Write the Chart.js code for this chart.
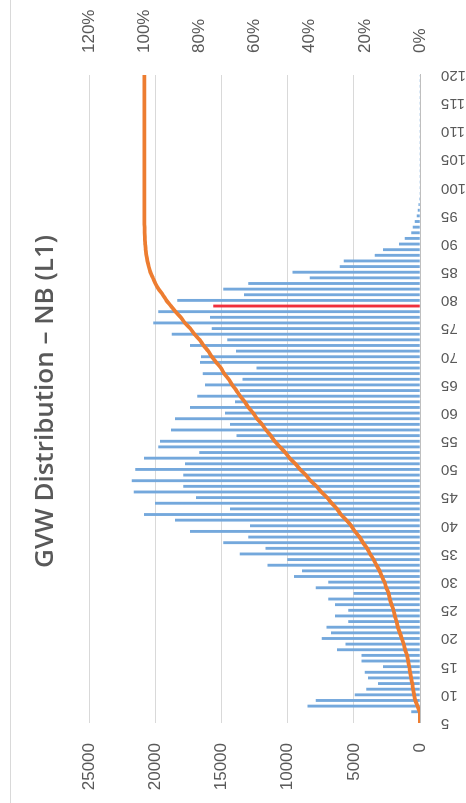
<!DOCTYPE html>
<html lang="en">
<head>
    <meta charset="UTF-8">
    <title>GVW Distribution – NB (L1)</title>
    <style>
        html, body {
            margin: 0;
            padding: 0;
            background: #fff;
            overflow: hidden;
        }

        body {
            width: 466px;
            height: 803px;
            position: relative;
        }

        /* the chart is laid out landscape and turned a quarter left */
        .turned {
            position: absolute;
            left: 0;
            top: 0;
            width: 803px;
            height: 466px;
            transform-origin: 0 0;
            transform: translate(0, 803px) rotate(-90deg);
            background: #fff;
        }

        .frame {
            position: absolute;
            left: 0;
            top: 10px;
            width: 803px;
            height: 1px;
            background: #d9d9d9;
        }

        .chart-box {
            position: absolute;
            left: 0;
            top: 0;
            width: 803px;
            height: 466px;
        }
    </style>
</head>
<body>
    <div class="turned">
        <div class="frame"></div>
        <div class="chart-box">
            <canvas id="gvwChart"></canvas>
        </div>
    </div>

    <script src="https://cdn.jsdelivr.net/npm/chart.js"></script>
    <script>
        // GVW bins (kips)
        const bins = [
            5, 6, 7, 8, 9, 10, 11, 12, 13, 14,
            15, 16, 17, 18, 19, 20, 21, 22, 23, 24,
            25, 26, 27, 28, 29, 30, 31, 32, 33, 34,
            35, 36, 37, 38, 39, 40, 41, 42, 43, 44,
            45, 46, 47, 48, 49, 50, 51, 52, 53, 54,
            55, 56, 57, 58, 59, 60, 61, 62, 63, 64,
            65, 66, 67, 68, 69, 70, 71, 72, 73, 74,
            75, 76, 77, 78, 79, 80, 81, 82, 83, 84,
            85, 86, 87, 88, 89, 90, 91, 92, 93, 94,
            95, 96, 97, 98, 99, 100, 101, 102, 103, 104,
            105, 106, 107, 108, 109, 110, 111, 112, 113, 114,
            115, 116, 117, 118, 119, 120
        ];

        // truck counts per bin
        const gvwCounts = [
            0, 60, 630, 8480, 7850, 4900, 4030, 3150, 3900, 4150,
            2770, 4400, 4400, 6240, 5600, 7400, 6700, 7050, 5400, 6400,
            5400, 6400, 6900, 5000, 7850, 6900, 9500, 8900, 11500, 10000,
            13600, 11650, 14840, 12960, 17360, 12830, 18490, 20830, 14340, 20000,
            16900, 21600, 17860, 21760, 17860, 21500, 17740, 20830, 16660, 19750,
            19620, 13840, 18800, 14340, 18490, 14720, 17360, 13960, 16810, 13590,
            16230, 13390, 16400, 12330, 16600, 16530, 13890, 17360, 14540, 18740,
            15720, 20130, 15850, 19750, 15600, 18320, 13280, 14840, 12960, 8300,
            9610, 6040, 5740, 3400, 2770, 1560, 1130, 630, 530, 380,
            230, 150, 80, 40, 0, 0, 0, 0, 0, 0,
            0, 0, 0, 0, 0, 0, 0, 0, 0, 0,
            0, 0, 0, 0, 0, 0
        ];

        // cumulative share (%)
        const cumulativePct = [
            0, 0, 0.1, 0.9, 1.7, 2.1, 2.5, 2.8, 3.2, 3.6,
            3.9, 4.3, 4.7, 5.4, 5.9, 6.6, 7.3, 8.0, 8.5, 9.1,
            9.6, 10.3, 10.9, 11.4, 12.2, 12.9, 13.8, 14.7, 15.8, 16.8,
            18.1, 19.2, 20.7, 21.9, 23.6, 24.9, 26.7, 28.7, 30.1, 32.0,
            33.7, 35.8, 37.5, 39.7, 41.4, 43.5, 45.2, 47.3, 48.9, 50.8,
            52.7, 54.1, 55.9, 57.3, 59.1, 60.5, 62.2, 63.6, 65.2, 66.6,
            68.1, 69.4, 71.0, 72.2, 73.9, 75.5, 76.8, 78.5, 79.9, 81.8,
            83.3, 85.3, 86.8, 88.7, 90.3, 92.0, 93.3, 94.8, 96.0, 96.9,
            97.8, 98.4, 98.9, 99.3, 99.5, 99.7, 99.8, 99.9, 99.9, 100,
            100, 100, 100, 100, 100, 100, 100, 100, 100, 100,
            100, 100, 100, 100, 100, 100, 100, 100, 100, 100,
            100, 100, 100, 100, 100, 100
        ];

        const highlightBin = 79;

        const textGray = '#595959';
        const fontFamily = "'Liberation Sans', Arial, sans-serif";

        const ctx = document.getElementById('gvwChart').getContext('2d');

        new Chart(ctx, {
            data: {
                labels: bins,
                datasets: [{
                    type: 'line',
                    label: 'Cumulative',
                    data: cumulativePct,
                    yAxisID: 'y1',
                    borderColor: '#ed7d31',
                    borderWidth: 3.8,
                    pointRadius: 0,
                    tension: 0.2,
                    order: 0
                }, {
                    type: 'bar',
                    label: 'Count',
                    data: gvwCounts,
                    yAxisID: 'y',
                    backgroundColor: c => bins[c.dataIndex] === highlightBin ? '#f0303c' : '#74a8dc',
                    barThickness: 2.2,
                    order: 1
                }]
            },
            options: {
                responsive: true,
                maintainAspectRatio: false,
                animation: false,
                layout: { padding: 0 },
                plugins: {
                    legend: { display: false },
                    tooltip: { enabled: false },
                    title: {
                        display: true,
                        text: 'GVW Distribution – NB (L1)',
                        color: textGray,
                        font: { family: "'Open Sans', sans-serif", size: 26, weight: '600' },
                        padding: { top: 30, bottom: 28 }
                    }
                },
                scales: {
                    x: {
                        type: 'category',
                        offset: false,
                        grid: { display: false },
                        border: { display: true, color: '#bfbfbf' },
                        ticks: {
                            autoSkip: false,
                            minRotation: 90,
                            maxRotation: 90,
                            padding: 13,
                            color: textGray,
                            font: { family: fontFamily, size: 15 },
                            callback: (v, i) => bins[i] % 5 === 0 ? String(bins[i]) : ''
                        },
                        afterFit: s => { s.height = 46; }
                    },
                    y: {
                        position: 'left',
                        min: 0,
                        max: 25000,
                        ticks: {
                            stepSize: 5000,
                            padding: 20,
                            color: textGray,
                            font: { family: fontFamily, size: 17 },
                            callback: v => String(v)
                        },
                        grid: { color: '#d9d9d9', drawTicks: false },
                        border: { display: false },
                        afterFit: s => { s.width = 80; }
                    },
                    y1: {
                        position: 'right',
                        min: 0,
                        max: 120,
                        ticks: {
                            stepSize: 20,
                            padding: 22,
                            color: textGray,
                            font: { family: fontFamily, size: 17 },
                            callback: v => v + '%'
                        },
                        grid: { display: false, drawTicks: false },
                        border: { display: false },
                        afterFit: s => { s.width = 75; }
                    }
                }
            }
        });
    </script>
</body>
</html>
